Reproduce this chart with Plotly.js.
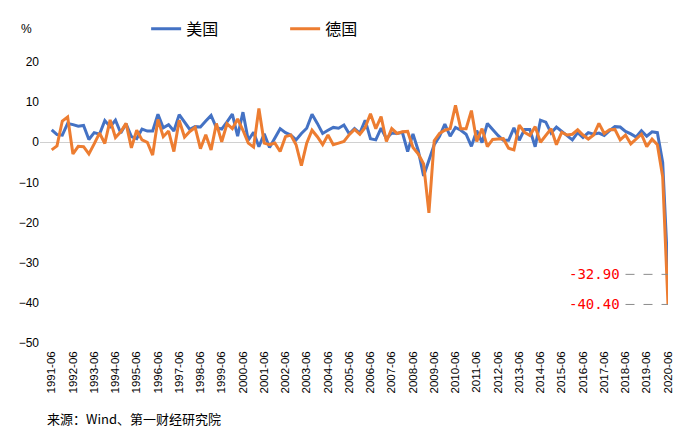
<!DOCTYPE html>
<html>
<head>
<meta charset="utf-8">
<script src="https://cdn.plot.ly/plotly-3.0.1.min.js"></script>
<style>html,body{margin:0;padding:0;background:#fff;}#chart{width:687px;height:437px;}</style>
</head>
<body>
<div id="chart"></div>
<script>
// Quarter-end labels 1991-06 .. 2020-06
var startYear = 1991, endYear = 2020;
var quarterMonths = ["03", "06", "09", "12"];
var categories = [];
for (var y = startYear; y <= endYear; y++) {
  for (var q = 0; q < 4; q++) {
    var lab = y + "-" + quarterMonths[q];
    if ((y === startYear && q < 1) || (y === endYear && q > 1)) continue;
    categories.push(lab);
  }
}
var tickLabels = ["1991-06","1992-06","1993-06","1994-06","1995-06","1996-06","1997-06","1998-06","1999-06","2000-06","2001-06","2002-06","2003-06","2004-06","2005-06","2006-06","2007-06","2008-06","2009-06","2010-06","2011-06","2012-06","2013-06","2014-06","2015-06","2016-06","2017-06","2018-06","2019-06","2020-06"];

// 美国 (annualised q/q real GDP growth, %)
var usValues = [
  3.1, 1.9, 1.8,
  4.7, 4.4, 4.0, 4.2,
  0.7, 2.4, 2.0, 5.4,
  3.9, 5.5, 2.3, 4.6,
  1.4, 0.9, 3.3, 2.8,
  2.8, 7.0, 3.6, 4.4,
  2.8, 6.9, 5.2, 3.2,
  3.9, 3.8, 5.3, 6.7,
  3.6, 3.3, 5.1, 7.0,
  1.5, 7.5, 0.5, 2.5,
  -1.1, 2.1, -1.3, 1.1,
  3.4, 2.4, 1.8, 0.6,
  2.2, 3.5, 7.0, 4.7,
  2.2, 3.0, 3.7, 3.5,
  4.3, 2.1, 3.4, 2.3,
  5.5, 0.9, 0.6, 3.5,
  0.9, 2.3, 2.2, 2.5,
  -2.3, 2.1, -2.1, -8.4,
  -4.4, -0.6, 1.5, 4.5,
  1.5, 3.7, 3.0, 2.0,
  -1.0, 2.9, -0.1, 4.7,
  3.2, 1.7, 0.5, 0.5,
  3.6, 0.5, 3.2, 3.2,
  -1.1, 5.5, 5.0, 2.3,
  3.8, 2.7, 1.5, 0.6,
  2.4, 1.2, 2.4, 2.0,
  2.3, 1.7, 2.9, 3.9,
  3.8, 2.7, 2.1, 1.3,
  2.9, 1.5, 2.6, 2.4,
  -5.0, -32.9
];

// 德国
var deValues = [
  -1.9, -0.9, 5.3,
  6.3, -2.9, -1.0, -1.1,
  -2.9, -0.4, 2.3, -0.3,
  5.6, 1.2, 2.6, 4.7,
  -1.4, 3.0, 0.6, 0.0,
  -3.2, 5.7, 1.4, 2.8,
  -2.3, 5.5, 1.3, 2.7,
  3.7, -1.6, 1.9, -1.9,
  4.7, 0.1, 4.6, 3.4,
  5.8, 3.0, -0.2, -1.2,
  8.4, -0.2, -0.6, -0.2,
  -2.3, 1.4, 1.8, -0.6,
  -5.8, -0.2, 3.0, 1.4,
  -0.6, 1.8, -0.6, -0.2,
  0.2, 1.9, 3.2, 2.0,
  3.7, 7.1, 3.4, 6.4,
  0.2, 3.4, 2.2, 2.6,
  2.7, -1.3, -2.9, -5.4,
  -17.6, 0.4, 2.2, 3.0,
  3.4, 9.2, 3.4, 3.4,
  7.9, 0.2, 3.4, -1.1,
  0.7, 0.8, 0.9, -1.5,
  -1.9, 4.3, 2.5, 1.7,
  3.9, 0.0, 1.8, 3.4,
  -0.6, 2.5, 1.8, 2.0,
  3.1, 1.8, 0.8, 1.8,
  4.7, 2.2, 3.1, 3.2,
  0.6, 1.8, -0.4, 0.8,
  2.0, -1.1, 0.8, -0.6,
  -8.6, -40.4
];

var usLabel = "-32.90";
var deLabel = "-40.40";

var idx = categories.map(function (_, i) { return i; });
var tickIdx = [];
categories.forEach(function (c, i) { if (tickLabels.indexOf(c) >= 0) tickIdx.push(i); });
var last = categories.length - 1;

var traces = [
  {x: idx, y: usValues, type: "scatter", mode: "lines", name: "美国",
   line: {color: "#4472C4", width: 3, shape: "linear"}, hoverinfo: "skip"},
  {x: idx, y: deValues, type: "scatter", mode: "lines", name: "德国",
   line: {color: "#ED7D31", width: 3, shape: "linear"}, hoverinfo: "skip"}
];

var cjk = "'Noto Sans CJK SC', 'Noto Sans', sans-serif";
var layout = {
  width: 687, height: 437,
  margin: {l: 40, r: 19, t: 58, b: 94},
  paper_bgcolor: "#ffffff", plot_bgcolor: "#ffffff",
  showlegend: true,
  legend: {orientation: "h", x: 0.169, xanchor: "left", y: 1.118, yanchor: "middle",
           entrywidth: 94, entrywidthmode: "pixels",
           font: {family: cjk, size: 16, color: "#000"}, itemwidth: 30},
  xaxis: {range: [-2.2, last], tickmode: "array", tickvals: tickIdx, ticktext: tickLabels,
          tickangle: -90, showgrid: false, zeroline: false, showline: false, ticks: "",
          ticklabelstandoff: 5,
          tickfont: {family: "'Liberation Sans', sans-serif", size: 11.5, color: "#000"}},
  yaxis: {range: [-50, 20], dtick: 10, showgrid: false, zeroline: true,
          zerolinecolor: "#d0d0d0", zerolinewidth: 1, showline: false, ticks: "",
          tickfont: {family: "'Liberation Sans', sans-serif", size: 12, color: "#000"}},
  shapes: [
    {type: "line", xref: "x", yref: "y", x0: last - 8, x1: last, y0: usValues[last], y1: usValues[last],
     line: {color: "#8c8c8c", width: 1, dash: "dash"}},
    {type: "line", xref: "x", yref: "y", x0: last - 8, x1: last, y0: deValues[last], y1: deValues[last],
     line: {color: "#8c8c8c", width: 1, dash: "dash"}}
  ],
  annotations: [
    {xref: "x", yref: "y", x: last - 8.6, y: usValues[last], xanchor: "right", yanchor: "middle",
     text: usLabel, showarrow: false, font: {family: "'DejaVu Sans Mono', monospace", size: 14, color: "#ff0000"}},
    {xref: "x", yref: "y", x: last - 8.6, y: deValues[last], xanchor: "right", yanchor: "middle",
     text: deLabel, showarrow: false, font: {family: "'DejaVu Sans Mono', monospace", size: 14, color: "#ff0000"}},
    {xref: "paper", yref: "paper", x: -0.021, y: 1.116, xanchor: "center", yanchor: "middle",
     text: "%", showarrow: false, font: {family: "'Liberation Sans', sans-serif", size: 12, color: "#000"}},
    {xref: "paper", yref: "paper", x: 0.008, y: -0.27, xanchor: "left", yanchor: "middle",
     text: "来源：Wind、第一财经研究院", showarrow: false, font: {family: cjk, size: 13, color: "#000"}}
  ]
};

Plotly.newPlot("chart", traces, layout, {displayModeBar: false, staticPlot: true});
</script>
</body>
</html>
